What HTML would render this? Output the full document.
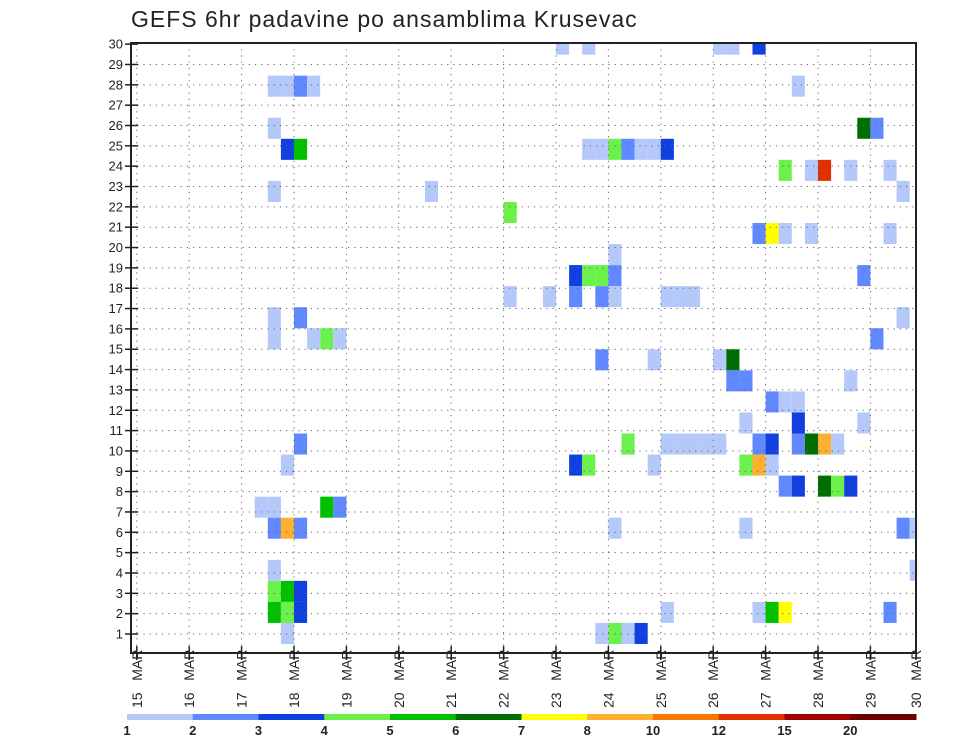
<!DOCTYPE html>
<html><head><meta charset="utf-8">
<style>
html,body{margin:0;padding:0;background:#fff;}
svg{display:block;font-family:"Liberation Sans",sans-serif;}
</style></head>
<body>
<svg id="chart" width="960" height="742" viewBox="0 0 960 742" xmlns="http://www.w3.org/2000/svg">
<rect x="0" y="0" width="960" height="742" fill="#fff"/>
<text x="131" y="27" font-size="23" fill="#222" letter-spacing="1.0">GEFS 6hr padavine po ansamblima Krusevac</text>
<g id="cells"></g>
<g id="grid"></g>
<g id="axes"></g>
<g id="legend"></g>
</svg>
<script>
// ---- data ----
const levels = [1,2,3,4,5,6,7,8,10,12,15,20];
const levelColors = ["#b4c8fa","#6088ff","#1040e0","#6cf04c","#00c000","#006e00","#ffff00","#ffb030","#f87800","#e03000","#a00000","#6e0000"];
const dayLabels = [15,16,17,18,19,20,21,22,23,24,25,26,27,28,29,30];
const rowLabels = [1,2,3,4,5,6,7,8,9,10,11,12,13,14,15,16,17,18,19,20,21,22,23,24,25,26,27,28,29,30];
const members = [
29,29,29,29,29,
27,27,27,27,27,
25,25,25,
24,24,24,24,24,24,24,24,24,
23,23,23,23,23,
22,22,22,
21,
20,20,20,20,20,
19,
18,18,18,18,18,
17,17,17,17,17,17,17,17,
16,16,16,
15,15,15,15,15,
14,14,14,14,
13,13,13,
12,12,12,
11,11,11,
10,10,10,10,10,10,10,10,10,10,10,10,10,
9,9,9,9,9,9,9,
8,8,8,8,8,
7,7,7,7,
6,6,6,6,6,6,6,
4,4,
3,3,3,
2,2,2,2,2,2,2,2,
1,1,1,1,1];
const times = [
23,23.5,26,26.25,26.75,
17.5,17.75,18,18.25,27.5,
17.5,28.75,29,
17.75,18,23.5,23.75,24,24.25,24.5,24.75,25,
27.25,27.75,28,28.5,29.25,
17.5,20.5,29.5,
22,
26.75,27,27.25,27.75,29.25,
24,
23.25,23.5,23.75,24,28.75,
22,22.75,23.25,23.75,24,25,25.25,25.5,
17.5,18,29.5,
17.5,18.25,18.5,18.75,29,
23.75,24.75,26,26.25,
26.25,26.5,28.5,
27,27.25,27.5,
26.5,27.5,28.75,
18,24.25,25,25.25,25.5,25.75,26,26.75,27,27.5,27.75,28,28.25,
17.75,23.25,23.5,24.75,26.5,26.75,27,
27.25,27.5,28,28.25,28.5,
17.25,17.5,18.5,18.75,
17.5,17.75,18,24,26.5,29.5,29.75,
17.5,29.75,
17.5,17.75,18,
17.5,17.75,18,25,26.75,27,27.25,29.25,
17.75,23.75,24,24.25,24.5];
const values = [
1.5,1.5,1.5,1.5,3.5,
1.5,1.5,2.5,1.5,1.5,
1.5,6.5,2.5,
3.5,5.5,1.5,1.5,4.5,2.5,1.5,1.5,3.5,
4.5,1.5,13.5,1.5,1.5,
1.5,1.5,1.5,
4.5,
2.5,7.5,1.5,1.5,1.5,
1.5,
3.5,4.5,4.5,2.5,2.5,
1.5,1.5,2.5,2.5,1.5,1.5,1.5,1.5,
1.5,2.5,1.5,
1.5,1.5,4.5,1.5,2.5,
2.5,1.5,1.5,6.5,
2.5,2.5,1.5,
2.5,1.5,1.5,
1.5,3.5,1.5,
2.5,4.5,1.5,1.5,1.5,1.5,1.5,2.5,3.5,2.5,6.5,9,1.5,
1.5,3.5,4.5,1.5,4.5,9,1.5,
2.5,3.5,6.5,4.5,3.5,
1.5,1.5,5.5,2.5,
2.5,9,2.5,1.5,1.5,2.5,1.5,
1.5,1.5,
4.5,5.5,3.5,
5.5,4.5,3.5,1.5,1.5,5.5,7.5,2.5,
1.5,1.5,4.5,1.5,3.5];

// ---- scales ----
const NS = "http://www.w3.org/2000/svg";
const L = 131, R = 916, T = 43, B = 653;
const X = d => 294 + (d - 18) * 52.4;
const dt = 0.25;
const bandH = 21.05;
const bandBottom = m => 644 - (m - 1) * bandH;
const rowY = r => 634 - (r - 1) * 20.34;
function colorFor(v){let i=0;for(let k=0;k<levels.length;k++){if(v>=levels[k])i=k;}return levelColors[i];}
function mk(tag, attrs, parent){const e=document.createElementNS(NS,tag);for(const k in attrs)e.setAttribute(k,attrs[k]);parent.appendChild(e);return e;}

// ---- cells ----
const cg = document.getElementById('cells');
for (let i = 0; i < values.length; i++) {
  let x0 = X(times[i]), x1 = X(times[i] + dt);
  let y1 = bandBottom(members[i]), y0 = y1 - bandH;
  x0 = Math.max(x0, L); x1 = Math.min(x1, R);
  y0 = Math.max(y0, T); y1 = Math.min(y1, B);
  const r = mk('rect', {x:x0, y:y0, width:x1-x0, height:y1-y0, fill:colorFor(values[i])}, cg);
  
  
}

// ---- grid ----
const gg = document.getElementById('grid');
rowLabels.forEach(r => {
  const y = rowY(r);
  if (y > T + 2) mk('line', {x1:L, x2:R, y1:y, y2:y, stroke:'#666', 'stroke-width':1, 'stroke-dasharray':'1.2 5'}, gg);
});
dayLabels.forEach(d => {
  const x = X(d);
  if (x > L + 2 && x < R - 2) mk('line', {x1:x, x2:x, y1:T, y2:B, stroke:'#666', 'stroke-width':1, 'stroke-dasharray':'1.2 5'}, gg);
});

// ---- axes ----
const ag = document.getElementById('axes');
mk('rect', {x:L, y:T, width:R-L, height:B-T, fill:'none', stroke:'#222', 'stroke-width':2}, ag);
rowLabels.forEach(r => {
  const y = rowY(r);
  mk('line', {x1:L-6, x2:L+7, y1:y, y2:y, stroke:'#222', 'stroke-width':1.5}, ag);
  const t = mk('text', {x:L-8, y:y+4.5, 'font-size':13, 'text-anchor':'end', fill:'#222'}, ag);
  t.textContent = r;
  
  
});
dayLabels.forEach(d => {
  const x = Math.min(X(d), R);
  mk('line', {x1:x, x2:x, y1:B-7, y2:B+7, stroke:'#222', 'stroke-width':1.5}, ag);
  const t = mk('text', {x:0, y:0, 'font-size':14, fill:'#222', transform:'translate(' + (x+5) + ',' + 708 + ') rotate(-90)'}, ag);
  t.textContent = d + '\u00a0\u00a0\u00a0MAR';
  
  
});

// ---- legend ----
const lg = document.getElementById('legend');
const LX0 = 127, LX1 = 916, segW = (LX1 - LX0) / levels.length;
levels.forEach((lv, i) => {
  const r = mk('rect', {x:LX0 + i*segW, y:714, width:segW+0.5, height:6, fill:levelColors[i]}, lg);
  
  
  const t = mk('text', {x:LX0 + i*segW, y:735, 'font-size':13, 'font-weight':'bold', 'text-anchor':'middle', fill:'#222'}, lg);
  t.textContent = lv;
  
  
});
</script>
</body></html>
